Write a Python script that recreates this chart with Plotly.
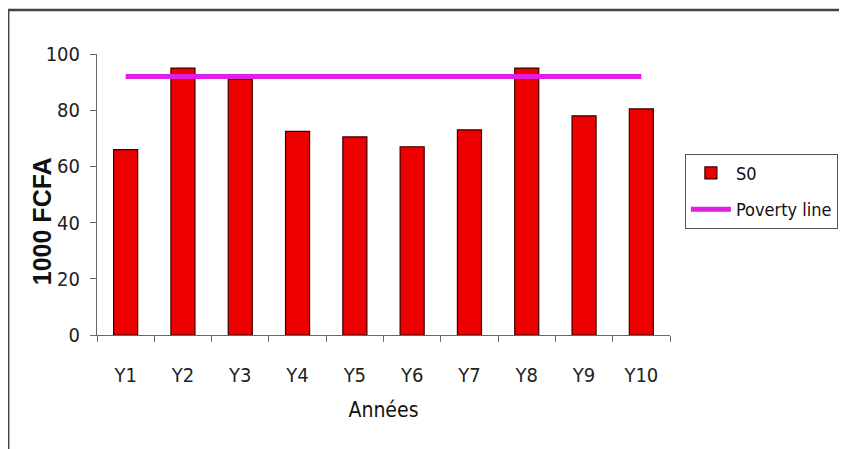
import plotly.graph_objects as go

categories = ["Y1", "Y2", "Y3", "Y4", "Y5", "Y6", "Y7", "Y8", "Y9", "Y10"]
s0_values = [66, 95, 91, 72.5, 70.5, 67, 73, 95, 78, 80.5]
poverty_line = [92] * len(categories)
y_ticks = [0, 20, 40, 60, 80, 100]

FONT = "DejaVu Sans Condensed, Liberation Sans, Arial, sans-serif"

fig = go.Figure()
fig.add_trace(go.Bar(
    x=categories, y=s0_values, name="S0", legendgroup="a",
    marker=dict(color="#ee0000", line=dict(color="#3a0000", width=1.2)),
))
fig.add_trace(go.Scatter(
    x=categories, y=poverty_line, name="Poverty line", mode="lines", legendgroup="b",
    line=dict(color="#e31ee3", width=5),
))

fig.update_layout(
    width=847, height=449,
    margin=dict(l=89, r=185, t=46, b=122),
    paper_bgcolor="white", plot_bgcolor="white",
    bargap=0.58,
    font=dict(family=FONT, color="#222", size=17),
    legend=dict(
        x=1.026, y=0.645, xanchor="left", yanchor="top",
        bordercolor="#555", borderwidth=1, bgcolor="white",
        font=dict(family=FONT, size=18, color="#111"),
        traceorder="grouped", tracegroupgap=10, itemwidth=40,
    ),
    showlegend=True,
    xaxis=dict(
        showline=True, linecolor="#666", linewidth=1,
        ticks="outside", ticklen=6, tickcolor="#666", tickson="boundaries",
        showgrid=False, zeroline=False,
        ticklabelstandoff=22,
        tickfont=dict(family=FONT, size=20, color="#222"),
        title=dict(text="Années", font=dict(family=FONT, size=21, color="#111"), standoff=16),
    ),
    yaxis=dict(
        range=[0, 100], tickvals=y_ticks,
        showline=True, linecolor="#666", linewidth=1,
        ticks="outside", ticklen=6, tickcolor="#666",
        showgrid=False, zeroline=False,
        ticklabelstandoff=6,
        tickfont=dict(family=FONT, size=20, color="#222"),
    ),
    annotations=[dict(
        text="<b>1000 FCFA</b>", xref="paper", yref="paper",
        x=-0.096, y=0.405, xanchor="center", yanchor="middle",
        textangle=-90, showarrow=False,
        font=dict(family="Liberation Sans, Arial, sans-serif", size=25, color="#111"),
    )],
    shapes=[dict(
        type="rect", xref="paper", yref="paper",
        x0=-0.155, x1=1.36, y0=-0.43, y1=1.157,
        line=dict(color="#444", width=2.5), fillcolor="rgba(0,0,0,0)", layer="below",
    )],
)

fig.write_html("out.html")
